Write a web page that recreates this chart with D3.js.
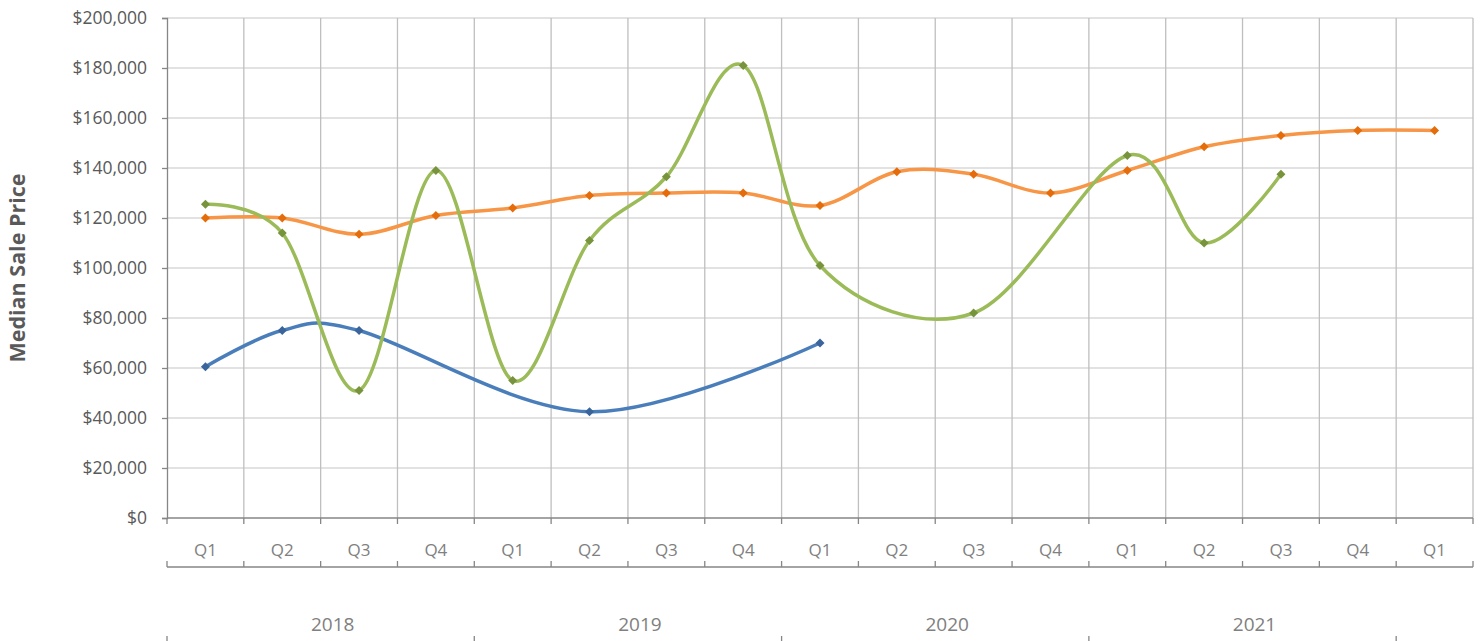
<!DOCTYPE html>
<html><head><meta charset="utf-8">
<script src="https://cdnjs.cloudflare.com/ajax/libs/d3/7.8.5/d3.min.js"></script>
<style>body{margin:0;background:#fff}svg{display:block}</style>
</head><body><svg id="c" width="1483" height="641"></svg>
<script>
const quarters = ["Q1","Q2","Q3","Q4","Q1","Q2","Q3","Q4","Q1","Q2","Q3","Q4","Q1","Q2","Q3","Q4","Q1"];
const years = ["2018","2019","2020","2021"];
const yTicks = [0,20000,40000,60000,80000,100000,120000,140000,160000,180000,200000];
const blueVals = [60500,75000,75000,null,null,42500,null,null,70000,null,null,null,null,null,null,null,null];
const orangeVals = [120000,120000,113500,121000,124000,129000,130000,130000,125000,138500,137500,130000,139000,148500,153000,155000,155000];
const greenVals = [125500,114000,51000,139000,55000,111000,136500,181000,101000,null,82000,null,145000,110000,137500,null,null];

const series = [
  {vals: blueVals, line: "#4a7ebb", mark: "#3a659a"},
  {vals: orangeVals, line: "#f79646", mark: "#e46c0a"},
  {vals: greenVals, line: "#9bbb59", mark: "#77933c"}
];

const svg = d3.select("#c");
const L = 167, R = 1473, T = 18, B = 518;
const idx = d3.range(quarters.length);
const x = d3.scaleBand().domain(idx).range([L, R]).padding(0);
const y = d3.scaleLinear().domain([0, 200000]).range([B, T]);
const bw = x.bandwidth();
const font = "'Open Sans', sans-serif";

// horizontal gridlines
svg.append("g").selectAll("line").data(yTicks.filter(d => d > 0)).join("line")
  .attr("x1", L).attr("x2", R).attr("y1", d => y(d)).attr("y2", d => y(d))
  .attr("stroke", "#d9d9d9").attr("stroke-width", 1.3);
// vertical gridlines at category boundaries
svg.append("g").selectAll("line").data(idx).join("line")
  .attr("x1", d => x(d) + bw).attr("x2", d => x(d) + bw).attr("y1", T).attr("y2", B)
  .attr("stroke", "#bfbfbf").attr("stroke-width", 1.3);

// y axis
const yAxis = d3.axisLeft(y).tickValues(yTicks).tickSize(5).tickPadding(15)
  .tickFormat(d => "$" + d3.format(",")(d));
const ga = svg.append("g").attr("transform", `translate(${L},0)`).call(yAxis);
ga.select(".domain").attr("stroke", "#868686").attr("stroke-width", 1.3);
ga.selectAll(".tick line").attr("stroke", "#868686").attr("stroke-width", 1.3);
ga.selectAll(".tick text").attr("fill", "#595959").style("font-family", font).style("font-size", "17.5px");

// x axis line and ticks
svg.append("line").attr("x1", L).attr("x2", R).attr("y1", B).attr("y2", B)
  .attr("stroke", "#868686").attr("stroke-width", 1.3);
const bounds = idx.map(d => x(d)).concat([R]);
svg.append("g").selectAll("line").data(bounds).join("line")
  .attr("x1", d => d).attr("x2", d => d).attr("y1", B).attr("y2", B + 6)
  .attr("stroke", "#868686").attr("stroke-width", 1.3);
// quarter labels
svg.append("g").selectAll("text").data(idx).join("text")
  .attr("x", d => x(d) + bw / 2).attr("y", 556).attr("text-anchor", "middle")
  .attr("fill", "#808080").style("font-family", font).style("font-size", "17px")
  .text(d => quarters[d]);
// separator line
svg.append("line").attr("x1", L).attr("x2", R).attr("y1", 567).attr("y2", 567)
  .attr("stroke", "#868686").attr("stroke-width", 1.3);
svg.append("g").selectAll("line").data(bounds).join("line")
  .attr("x1", d => d).attr("x2", d => d).attr("y1", 561).attr("y2", 567)
  .attr("stroke", "#868686").attr("stroke-width", 1.3);
// year labels
svg.append("g").selectAll("text").data(years).join("text")
  .attr("x", (d, i) => x(i * 4) + 2 * bw + 12).attr("y", 631).attr("text-anchor", "middle")
  .attr("fill", "#808080").style("font-family", font).style("font-size", "19px")
  .text(d => d);
const yearBounds = years.map((d, i) => x(i * 4)).concat([x(16)]);
svg.append("g").selectAll("line").data(yearBounds).join("line")
  .attr("x1", d => d).attr("x2", d => d).attr("y1", 636).attr("y2", 641)
  .attr("stroke", "#868686").attr("stroke-width", 1.3);

// y title
svg.append("text").attr("transform", `translate(25,${(T + B) / 2}) rotate(-90)`)
  .attr("text-anchor", "middle").attr("fill", "#595959")
  .style("font-family", font).style("font-size", "21.5px").style("font-weight", "bold")
  .text("Median Sale Price");

// series
const line = d3.line().x(d => x(d.i) + bw / 2).y(d => y(d.v)).curve(d3.curveCardinal.tension(0));
series.forEach(s => {
  const pts = s.vals.map((v, i) => ({i, v})).filter(d => d.v != null);
  svg.append("path").datum(pts).attr("d", line).attr("fill", "none")
    .attr("stroke", s.line).attr("stroke-width", 3.5).attr("stroke-linejoin", "round");
  svg.append("g").selectAll("path").data(pts).join("path")
    .attr("transform", d => `translate(${x(d.i) + bw / 2},${y(d.v)})`)
    .attr("d", "M0,-4.5L4.5,0L0,4.5L-4.5,0Z").attr("fill", s.mark);
});
</script></body></html>
